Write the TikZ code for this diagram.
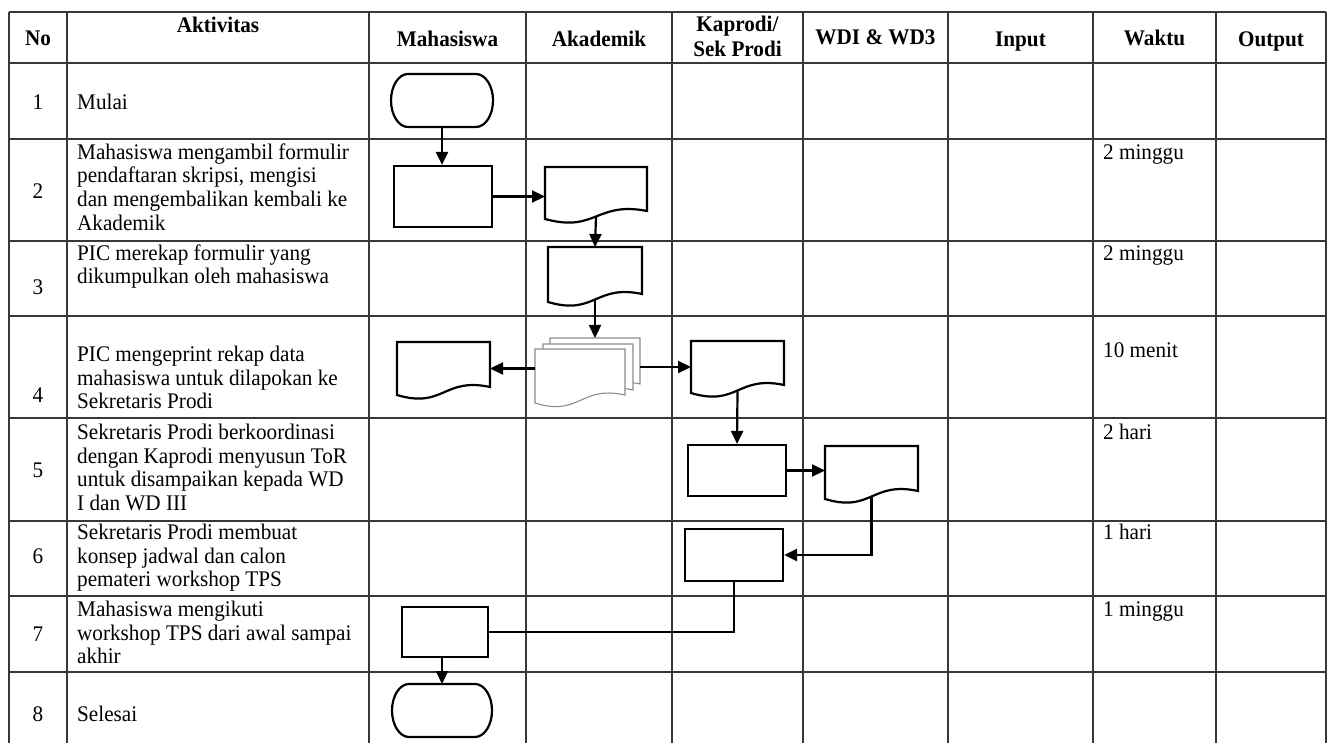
\documentclass[tikz,border=0pt]{standalone}
\usepackage{fontspec}
\setmainfont{Liberation Serif}[FakeStretch=0.95]
\usetikzlibrary{arrows.meta,calc}
\tikzset{
  gridline/.style={line width=1.5pt, draw=black!78},
  hdr/.style={font=\fontsize{22.3}{27}\selectfont\bfseries, inner sep=0pt, anchor=base, align=center},
  cell/.style={font=\fontsize{22.3}{23.8}\selectfont, inner sep=0pt, anchor=north west, align=left},
  num/.style={font=\fontsize{22.3}{23.8}\selectfont, inner sep=0pt, anchor=base},
  procbox/.style={draw=black, line width=2.2pt, fill=white, inner sep=0pt},
  holder/.style={draw=none, inner sep=0pt, outer sep=0pt},
  docshape/.style={line width=2.2pt, draw=black, fill=white},
  mdshape/.style={line width=1.1pt, draw=black!45, fill=white},
  arr/.style={line width=2.2pt, -{Triangle[length=13pt,width=12pt]}},
  ln/.style={line width=2.2pt},
}
\newcommand\docline[2][docshape]{\draw[#1] (#2.south west) -- (#2.north west) -- (#2.north east) -- ($(#2.south east)+(0,-8)$) .. controls ($(#2.south)+(0,-18)$) and ($(#2.south)+(0,14)$) .. (#2.south west) -- cycle;}
\newcommand\termline[1]{\draw[line width=2.2pt, fill=white] ($(#1.north west)+(17,0)$) -- ($(#1.north east)+(-17,0)$) arc[start angle=90, end angle=-90, x radius=17pt, y radius=26.5pt] -- ($(#1.south west)+(17,0)$) arc[start angle=270, end angle=90, x radius=17pt, y radius=26.5pt] -- cycle;}
\begin{document}
\begin{tikzpicture}[x=1pt,y=-1pt]
\useasboundingbox (0,0) rectangle (1328,743);
\fill[white] (0,0) rectangle (1328,743);
% table grid
\foreach \yy in {12,63,139,241,316,418,521,596,672} \draw[gridline] (9,\yy) -- (1326,\yy);
\foreach \xx in {9,67,369,526,672,803,948,1093,1216,1326} \draw[gridline] (\xx,12) -- (\xx,743);
% header
\node[hdr] (hno) at (38,46) {No};
\node[hdr] (hakt) at (218,33) {Aktivitas};
\node[hdr] (hmhs) at (447.5,47) {Mahasiswa};
\node[hdr] (hakd) at (599,47) {Akademik};
\node[hdr] (hkap) at (737.5,32) {Kaprodi/};
\node[hdr] (hsek) at (737.5,57) {Sek Prodi};
\node[hdr] (hwd) at (875.5,45) {WDI \& WD3};
\node[hdr] (hin) at (1020.5,47) {Input};
\node[hdr] (hwk) at (1154.5,46) {Waktu};
\node[hdr] (hout) at (1271,47) {Output};
% numbers
\node[num] (n1) at (38,110) {1};
\node[num] (n2) at (38,199) {2};
\node[num] (n3) at (38,295) {3};
\node[num] (n4) at (38,402) {4};
\node[num] (n5) at (38,477) {5};
\node[num] (n6) at (38,563) {6};
\node[num] (n7) at (38,641) {7};
\node[num] (n8) at (38,721) {8};
% activities
\node[num, anchor=base west] (a1) at (77,110) {Mulai};
\node[cell] (a2) at (77,142) {\rule{0pt}{17pt}Mahasiswa mengambil formulir\\pendaftaran skripsi, mengisi\\dan mengembalikan kembali ke\\Akademik};
\node[cell] (a3) at (77,243) {\rule{0pt}{17pt}PIC merekap formulir yang\\dikumpulkan oleh mahasiswa};
\node[cell] (a4) at (77,344) {\rule{0pt}{17pt}PIC mengeprint rekap data\\mahasiswa untuk dilapokan ke\\Sekretaris Prodi};
\node[cell] (a5) at (77,422) {\rule{0pt}{17pt}Sekretaris Prodi berkoordinasi\\dengan Kaprodi menyusun ToR\\untuk disampaikan kepada WD\\I dan WD III};
\node[cell] (a6) at (77,522) {\rule{0pt}{17pt}Sekretaris Prodi membuat\\konsep jadwal dan calon\\pemateri workshop TPS};
\node[cell] (a7) at (77,599) {\rule{0pt}{17pt}Mahasiswa mengikuti\\workshop TPS dari awal sampai\\akhir};
\node[num, anchor=base west] (a8) at (77,721) {Selesai};
% waktu
\node[cell] (w2) at (1103,142) {\rule{0pt}{17pt}2 minggu};
\node[cell] (w3) at (1103,243) {\rule{0pt}{17pt}2 minggu};
\node[cell] (w4) at (1103,340) {\rule{0pt}{17pt}10 menit};
\node[cell] (w5) at (1103,422) {\rule{0pt}{17pt}2 hari};
\node[cell] (w6) at (1103,522) {\rule{0pt}{17pt}1 hari};
\node[cell] (w7) at (1103,599) {\rule{0pt}{17pt}1 minggu};
% flow shapes
\node[holder, minimum width=102pt, minimum height=53pt] (start) at (442,100.5) {};
\termline{start}
\node[procbox, minimum width=98pt, minimum height=61pt] (r2) at (443,196.5) {};
\node[holder, minimum width=102pt, minimum height=52pt] (d2) at (596,193) {};
\docline{d2}
\node[holder, minimum width=94pt, minimum height=55pt] (d3) at (595,274.5) {};
\docline{d3}
\node[holder, minimum width=90pt, minimum height=54pt] (md3) at (595,365) {};
\node[holder, minimum width=90pt, minimum height=54pt] (md2) at (588,371) {};
\node[holder, minimum width=90pt, minimum height=54pt] (md) at (580,376) {};
\docline[mdshape]{md3}
\docline[mdshape]{md2}
\docline[mdshape]{md}
\node[holder, minimum width=93pt, minimum height=53pt] (d4) at (443.5,368.5) {};
\docline{d4}
\node[holder, minimum width=93pt, minimum height=52pt] (dk) at (737.5,367) {};
\docline{dk}
\node[procbox, minimum width=98pt, minimum height=51pt] (r5) at (737,470.5) {};
\node[holder, minimum width=93pt, minimum height=53pt] (d5) at (871.5,472.5) {};
\docline{d5}
\node[procbox, minimum width=98pt, minimum height=52pt] (r6) at (734,555) {};
\node[procbox, minimum width=86pt, minimum height=50pt] (r7) at (445,632) {};
\node[holder, minimum width=100pt, minimum height=53pt] (end) at (442,710.5) {};
\termline{end}
% connectors
\draw[arr] (start.south) -- (start.south |- r2.north);
\draw[arr] (r2.east) -- (r2.east -| d2.west);
\draw[arr] ($(d2.south)+(0,-2)$) -- (d3.north);
\draw[arr] ($(d3.south)+(0,-2)$) -- (d3.south |- md3.north);
\draw[arr] (md.west |- d4.east) -- (d4.east);
\draw[arr] (md3.east |- dk.west) -- (dk.west);
\draw[arr] ($(dk.south)+(0,-2)$) -- (r5.north);
\draw[arr] (r5.east) -- (r5.east -| d5.west);
\draw[arr] ($(d5.south)+(0,-2)$) |- (r6.east);
\draw[ln] (r6.south) |- (r7.east);
\draw[arr] (r7.south -| end.north) -- (end.north);
\end{tikzpicture}
\end{document}
